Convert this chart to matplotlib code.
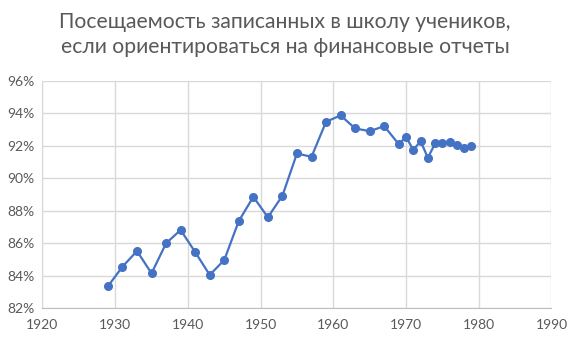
import matplotlib
matplotlib.use("Agg")
import matplotlib.pyplot as plt
from matplotlib.ticker import FuncFormatter, MultipleLocator

# Данные
years = [1929, 1931, 1933, 1935, 1937, 1939, 1941, 1943, 1945, 1947, 1949,
         1951, 1953, 1955, 1957, 1959, 1961, 1963, 1965, 1967, 1969, 1970,
         1971, 1972, 1973, 1974, 1975, 1976, 1977, 1978, 1979]
attendance = [83.35, 84.56, 85.52, 84.15, 86.0, 86.82, 85.46, 84.05, 84.97,
              87.37, 88.86, 87.6, 88.93, 91.53, 91.32, 93.48, 93.87, 93.07,
              92.9, 93.21, 92.1, 92.55, 91.74, 92.29, 91.26, 92.15, 92.15,
              92.23, 92.04, 91.84, 92.0]

title = "Посещаемость записанных в школу учеников,\nесли ориентироваться на финансовые отчеты"

plt.rcParams["font.family"] = ["Lato", "DejaVu Sans"]

fig = plt.figure(figsize=(5.7, 3.41), dpi=100)
ax = fig.add_axes([0.0745, 0.096, 0.893, 0.667])

ax.plot(years, attendance, color="#4472C4", linewidth=1.6,
        marker="o", markersize=5.5, zorder=3)

ax.set_xlim(1920, 1990)
ax.set_ylim(82, 96)
ax.xaxis.set_major_locator(MultipleLocator(10))
ax.yaxis.set_major_locator(MultipleLocator(2))
ax.yaxis.set_major_formatter(FuncFormatter(lambda v, p: f"{v:.0f}%"))

ax.grid(True, color="#d9d9d9", linewidth=1)
ax.set_axisbelow(True)
for s in ["top", "right"]:
    ax.spines[s].set_visible(False)
ax.spines["left"].set_color("#d9d9d9")
ax.spines["bottom"].set_color("#bfbfbf")
ax.tick_params(length=0, colors="#595959", labelsize=10)
ax.tick_params(axis="x", pad=8)
ax.tick_params(axis="y", pad=6)

fig.suptitle(title, fontsize=15.2, color="#595959", y=0.965, linespacing=1.3)

fig.savefig("out.png", dpi=100)
